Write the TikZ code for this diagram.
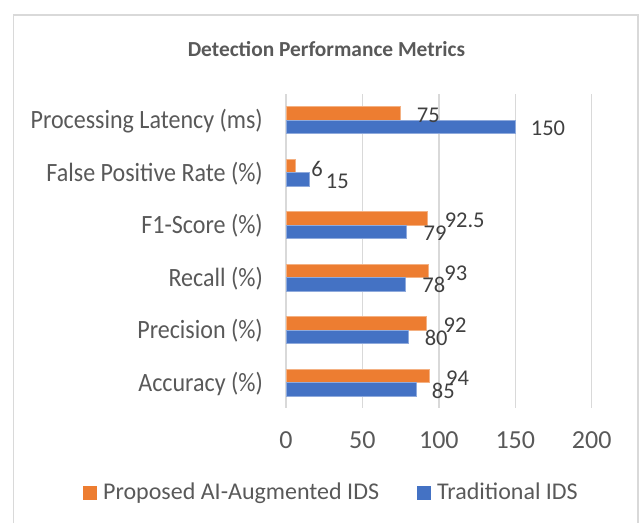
\documentclass[tikz,border=0pt]{standalone}
\usepackage{fontspec}
\setmainfont{Carlito}
\newfontfamily\catfont[FakeStretch=0.91]{Carlito}
\definecolor{seriesA}{HTML}{ED7D31}
\definecolor{seriesB}{HTML}{4472C4}
\definecolor{labelgray}{HTML}{595959}
\definecolor{valgray}{HTML}{404040}
\definecolor{gridgray}{HTML}{D9D9D9}
\tikzset{
  catlabel/.style={anchor=base east, text=labelgray, inner sep=0pt, font=\catfont\fontsize{26.4}{31}\selectfont},
  ticklabel/.style={anchor=base, text=labelgray, inner sep=0pt, font=\fontsize{26}{30}\selectfont},
  vallabel/.style={anchor=base, text=valgray, inner sep=0pt, font=\fontsize{22.5}{27}\selectfont},
  legendlabel/.style={anchor=base west, text=labelgray, inner sep=0pt, font=\fontsize{24}{29}\selectfont},
  gridline/.style={draw=gridgray, line width=1.5pt},
  barA/.style={fill=seriesA, draw=seriesA!60!white, line width=0.6pt},
  barB/.style={fill=seriesB, draw=seriesB!60!white, line width=0.6pt},
}
\begin{document}
\begin{tikzpicture}[x=1pt, y=-1pt]
\useasboundingbox (0,0) rectangle (641,523);
% chart frame (runs past the lower edge)
\draw[draw=gridgray, line width=1.5pt] (13.5,523) -- (13.5,15) -- (638,15) -- (638,523);
% title
\node[anchor=base, text=labelgray, inner sep=0pt, font=\bfseries\fontsize{21.4}{26}\selectfont] (title) at (326.5,56.7) {Detection Performance Metrics};
% vertical grid lines and axis values
\foreach \v/\n in {0/g0,50/g50,100/g100,150/g150,200/g200}{
  \coordinate (\n top) at ({286+1.5285*\v},94);
  \coordinate (\n bot) at ({286+1.5285*\v},408);
  \draw[gridline] (\n top) -- (\n bot);
  \node[ticklabel] (\n lab) at ({286+1.5285*\v},448.3) {\v};
}
% bars: category index / proposed value / traditional value / name / label
\foreach \i/\a/\b/\n/\t in {
  0/75/150/lat/{Processing Latency (ms)},
  1/6/15/fpr/{False Positive Rate (\%)},
  2/92.5/79/fone/{F1-Score (\%)},
  3/93/78/rec/{Recall (\%)},
  4/92/80/prec/{Precision (\%)},
  5/94/85/acc/{Accuracy (\%)}}{
  \pgfmathsetmacro{\yc}{120+52.5*\i}
  \fill[barA] (286,{\yc-13.5}) rectangle ({286+1.5285*\a},\yc);
  \fill[barB] (286,\yc) rectangle ({286+1.5285*\b},{\yc+13.5});
  \node[catlabel] (\n cat) at (263,{\yc+8.5}) {\t};
}
% data values
\node[vallabel] (v lat a) at (428.3,122.3) {75};
\node[vallabel] (v lat b) at (548,135.7) {150};
\node[vallabel] (v fpr a) at (317.2,176) {6};
\node[vallabel] (v fpr b) at (337.3,188.3) {15};
\node[vallabel] (v fone a) at (464.7,227.3) {92.5};
\node[vallabel] (v fone b) at (435,240.7) {79};
\node[vallabel] (v rec a) at (455.8,280) {93};
\node[vallabel] (v rec b) at (433.8,292.7) {78};
\node[vallabel] (v prec a) at (455,332.3) {92};
\node[vallabel] (v prec b) at (436.2,345.7) {80};
\node[vallabel] (v acc a) at (457.5,385) {94};
\node[vallabel] (v acc b) at (443.3,398.3) {85};
% legend
\fill[seriesA] (83,486) rectangle (97,500);
\node[legendlabel] (leg a) at (103,499.3) {Proposed AI-Augmented IDS};
\fill[seriesB] (417,486) rectangle (431,500);
\node[legendlabel] (leg b) at (437,499.3) {Traditional IDS};
\end{tikzpicture}
\end{document}
